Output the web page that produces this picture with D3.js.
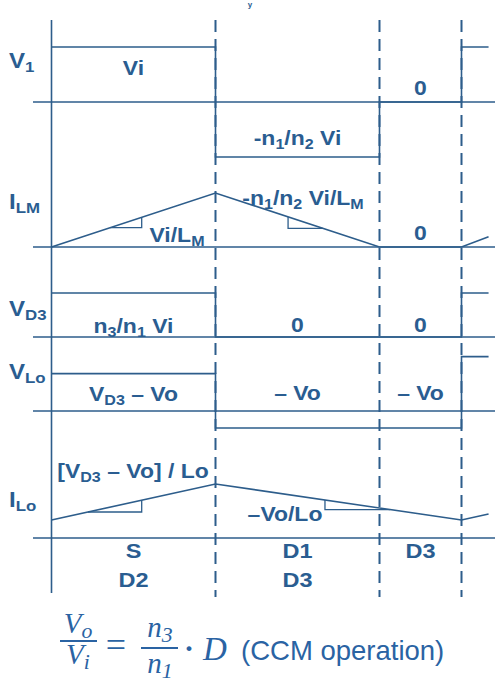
<!DOCTYPE html>
<html>
<head>
<meta charset="utf-8">
<script src="https://cdn.jsdelivr.net/npm/d3@7"></script>
<style>
  html, body { margin: 0; padding: 0; background: #ffffff; }
  svg { display: block; }
</style>
</head>
<body>
<script>
// Switching intervals (time in tenths of the period) and the knots of each waveform
const phaseBounds = [0, 4, 8, 10];
const tNext = 10.66;
const knotTimes = [0, 4, 8, 10, tNext];

// Piecewise-constant voltages: level held from each knot time
const v1Levels  = [1, -1, 0, 1, 1];        // Vi, -n1/n2 Vi, 0, Vi
const vd3Levels = [1, 0, 0, 1, 1];         // n3/n1 Vi, 0, 0
const vloLevels = [2.2, -1, -1, 3.2, 3.2]; // VD3 - Vo, -Vo, -Vo

// Piecewise-linear currents at the knot times
const ilmValues = [0, 1, 0, 0, 0.19];
const iloValues = [1.8, 5.4, 3.0, 1.8, 2.4];

// Interval names along the bottom
const intervalTop    = ["S", "D1", "D3"];
const intervalBottom = ["D2", "D3", ""];

// Row titles
const rowTitles = ["V_{1}", "I_{LM}", "V_{D3}", "V_{Lo}", "I_{Lo}"];

const W = 495, H = 684;
const lineColor = "#2d5d8b";
const textColor = "#2a5d91";

const svg = d3.select("body").append("svg")
  .attr("width", W).attr("height", H)
  .attr("viewBox", `0 0 ${W} ${H}`);

const x = d3.scaleLinear().domain([0, 10]).range([51.5, 461.5]);

// One vertical scale per trace: baseline position and pixels per unit
function rowScale(base, unit) {
  return d3.scaleLinear().domain([0, 1]).range([base, base - unit]);
}
const yV1  = rowScale(102, 55);
const yILM = rowScale(247, 54);
const yVD3 = rowScale(337, 44);
const yVLo = rowScale(411, 17);
const yILo = rowScale(538, 10);

const g = svg.append("g");

// Baselines of each trace
[yV1, yILM, yVD3, yVLo, yILo].forEach(s => {
  g.append("line")
    .attr("x1", 33).attr("x2", W)
    .attr("y1", s(0)).attr("y2", s(0))
    .attr("stroke", lineColor).attr("stroke-width", 1.5);
});

// Left time axis
g.append("line")
  .attr("x1", x(0)).attr("x2", x(0))
  .attr("y1", 20).attr("y2", 593)
  .attr("stroke", lineColor).attr("stroke-width", 1.6);

// Waveforms
function drawTrace(values, y, curve) {
  const pts = knotTimes.map((t, i) => [t, values[i]]);
  g.append("path")
    .datum(pts)
    .attr("d", d3.line().x(d => x(d[0])).y(d => y(d[1])).curve(curve))
    .attr("fill", "none")
    .attr("stroke", lineColor)
    .attr("stroke-width", 1.6)
    .attr("stroke-linejoin", "miter");
}
drawTrace(v1Levels, yV1, d3.curveStepAfter);
drawTrace(vd3Levels, yVD3, d3.curveStepAfter);
drawTrace(vloLevels, yVLo, d3.curveStepAfter);
drawTrace(ilmValues, yILM, d3.curveLinear);
drawTrace(iloValues, yILo, d3.curveLinear);

// Slope triangles on the current ramps
function valueAt(values, t) {
  return d3.scaleLinear().domain(knotTimes).range(values)(t);
}
function slopeMark(values, y, t0, t1) {
  const a = valueAt(values, t0), b = valueAt(values, t1);
  // horizontal leg at the lower end, vertical leg at the higher end
  const pts = b > a
    ? [[t0, a], [t1, a], [t1, b]]
    : [[t0, a], [t0, b], [t1, b]];
  g.append("path")
    .attr("d", d3.line().x(d => x(d[0])).y(d => y(d[1]))(pts))
    .attr("fill", "none")
    .attr("stroke", lineColor)
    .attr("stroke-width", 1.3);
}
slopeMark(ilmValues, yILM, 1.43, 2.2);
slopeMark(ilmValues, yILM, 5.77, 6.62);
slopeMark(iloValues, yILo, 0.89, 2.2);
slopeMark(iloValues, yILo, 6.67, 8.26);

// Dashed interval boundaries
phaseBounds.slice(1).forEach(t => {
  g.append("line")
    .attr("x1", x(t)).attr("x2", x(t))
    .attr("y1", 20).attr("y2", 597)
    .attr("stroke", lineColor)
    .attr("stroke-width", 2)
    .attr("stroke-dasharray", "12 7");
});

// Text with "_{...}" subscripts
function rich(sel, str, subScale, drop) {
  const parts = str.split(/(_\{[^}]*\})/).filter(p => p.length);
  let lowered = false;
  parts.forEach(p => {
    if (p.startsWith("_{")) {
      sel.append("tspan")
        .attr("font-size", subScale + "em")
        .attr("dy", lowered ? 0 : drop)
        .text(p.slice(2, -1));
      lowered = true;
    } else {
      sel.append("tspan")
        .attr("dy", lowered ? -drop : 0)
        .text(p);
      lowered = false;
    }
  });
  return sel;
}

// Bold label, slightly widened like the rest of the drawing
function label(str, cx, baseline, opts = {}) {
  const t = g.append("text")
    .attr("transform", `translate(${cx},${baseline}) scale(1.12,1)`)
    .attr("text-anchor", opts.anchor || "middle")
    .attr("font-family", "'Liberation Sans', Arial, sans-serif")
    .attr("font-weight", "bold")
    .attr("font-size", opts.size || 20.5)
    .attr("fill", textColor);
  rich(t, str, opts.sub || 0.7, opts.drop || 4);
  return t;
}

// Row titles
const titleBase = [68, 209, 316, 379, 507];
rowTitles.forEach((s, i) => label(s, 9, titleBase[i], { anchor: "start", size: 21.5 }));

// Level and slope annotations
const mid = (a, b) => (x(a) + x(b)) / 2;
label("Vi", mid(0, 4), 75);
label("0", mid(8, 10), 95);
label("-n_{1}/n_{2} Vi", mid(4, 8), 145);
label("-n_{1}/n_{2} Vi/L_{M}", 303, 205);
label("Vi/L_{M}", 177, 242);
label("0", mid(8, 10), 240);
label("n_{3}/n_{1} Vi", mid(0, 4), 333);
label("0", mid(4, 8), 332);
label("0", mid(8, 10), 332);
label("V_{D3} – Vo", mid(0, 4), 401);
label("– Vo", mid(4, 8), 400);
label("– Vo", mid(8, 10), 400);
label("[V_{D3} – Vo] / Lo", 133, 478);
label("–Vo/Lo", 285, 521);

// Conducting devices in each interval
phaseBounds.slice(0, -1).forEach((t, i) => {
  const cx = mid(t, phaseBounds[i + 1]);
  label(intervalTop[i], cx, 558, { size: 21 });
  if (intervalBottom[i]) label(intervalBottom[i], cx, 587, { size: 21 });
});

// Small heading mark above the plot
g.append("text")
  .attr("x", 250).attr("y", 7)
  .attr("text-anchor", "middle")
  .attr("font-family", "'Liberation Sans', Arial, sans-serif")
  .attr("font-weight", "bold")
  .attr("font-size", 8)
  .attr("fill", textColor)
  .text("y");

// Conversion ratio in CCM
const fcol = "#2a63a3";
const serif = "'Liberation Serif', 'Times New Roman', serif";
function mathText(str, px, py, size, anchor) {
  const t = svg.append("text")
    .attr("x", px).attr("y", py)
    .attr("text-anchor", anchor || "middle")
    .attr("font-family", serif)
    .attr("font-style", "italic")
    .attr("font-size", size)
    .attr("fill", fcol);
  rich(t, str, 0.75, 5);
  return t;
}
function bar(x1, x2, y) {
  svg.append("line")
    .attr("x1", x1).attr("x2", x2).attr("y1", y).attr("y2", y)
    .attr("stroke", fcol).attr("stroke-width", 2.2);
}
mathText("V_{o}", 78, 633, 29);
bar(60, 97, 641);
mathText("V_{i}", 78, 664, 29);
svg.append("text")
  .attr("x", 116).attr("y", 657)
  .attr("text-anchor", "middle")
  .attr("font-family", serif)
  .attr("font-size", 36)
  .attr("fill", fcol)
  .text("=");
mathText("n_{3}", 160, 637, 29);
bar(141, 178, 648);
mathText("n_{1}", 160, 673, 29);
svg.append("text")
  .attr("x", 189).attr("y", 658)
  .attr("text-anchor", "middle")
  .attr("font-family", serif)
  .attr("font-weight", "bold")
  .attr("font-size", 30)
  .attr("fill", fcol)
  .text("·");
mathText("D", 203, 660, 33, "start");
svg.append("text")
  .attr("x", 241).attr("y", 660)
  .attr("font-family", "'Liberation Sans', Arial, sans-serif")
  .attr("font-size", 27.5)
  .attr("fill", fcol)
  .text("(CCM operation)");
</script>
</body>
</html>
